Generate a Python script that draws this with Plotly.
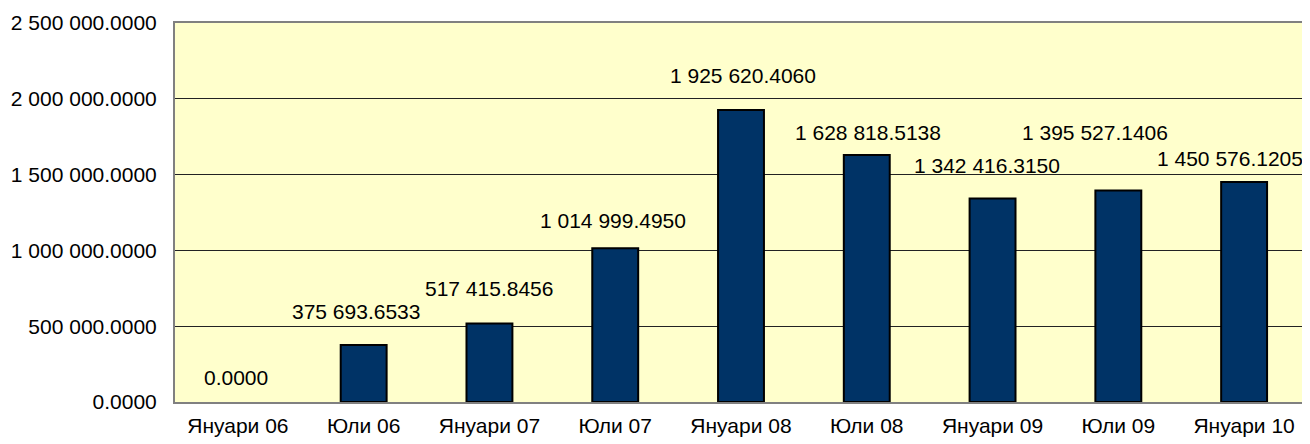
import plotly.graph_objects as go

categories = ["Януари 06", "Юли 06", "Януари 07", "Юли 07", "Януари 08",
              "Юли 08", "Януари 09", "Юли 09", "Януари 10"]
values = [0.0, 375693.6533, 517415.8456, 1014999.4950, 1925620.4060,
          1628818.5138, 1342416.3150, 1395527.1406, 1450576.1205]
y_tick_values = [0, 500000, 1000000, 1500000, 2000000, 2500000]
y_tick_labels = ["0.0000", "500 000.0000", "1 000 000.0000", "1 500 000.0000",
                 "2 000 000.0000", "2 500 000.0000"]

# label placement offsets (pixels), as positioned in the original chart
label_dx = [-1.5, -7.5, -0.5, -2.5, 2, 1, -5.5, -23, -14.5]
label_dy = [25, 33.5, 34.6, 28, 35, 22.5, 32.5, 58.4, 24]


def fmt(v):
    s = f"{v:,.4f}"
    return s.replace(",", " ")


FONT = "Liberation Sans, Arial, sans-serif"

fig = go.Figure()
fig.add_trace(go.Bar(
    x=categories, y=values,
    marker=dict(color="#003366",
                line=dict(color="#000000",
                          width=[0 if v == 0 else 2 for v in values])),
    hoverinfo="skip",
))

for c, v, dx, dy in zip(categories, values, label_dx, label_dy):
    fig.add_annotation(x=c, y=v, text=fmt(v), showarrow=False,
                       xanchor="center", yanchor="middle",
                       xshift=dx, yshift=dy,
                       font=dict(family=FONT, size=21, color="#000000"))

fig.update_layout(
    width=1302, height=436,
    margin=dict(l=167, r=1, t=15, b=42),
    paper_bgcolor="#FFFFFF", plot_bgcolor="#FFFFCC",
    bargap=0.635, showlegend=False,
    font=dict(family=FONT, size=21, color="#000000"),
)
fig.update_xaxes(
    showgrid=False, showline=True, linecolor="#808080", linewidth=2, mirror=True,
    ticks="", ticklabelstandoff=4, tickfont=dict(size=21),
)
fig.update_yaxes(
    range=[0, 2500000], tickvals=y_tick_values, ticktext=y_tick_labels,
    showgrid=True, gridcolor="#222222", gridwidth=1,
    showline=True, linecolor="#808080", linewidth=2, mirror=True,
    zeroline=False, ticks="", ticklabelstandoff=12,
)

fig.write_html("out.html")
